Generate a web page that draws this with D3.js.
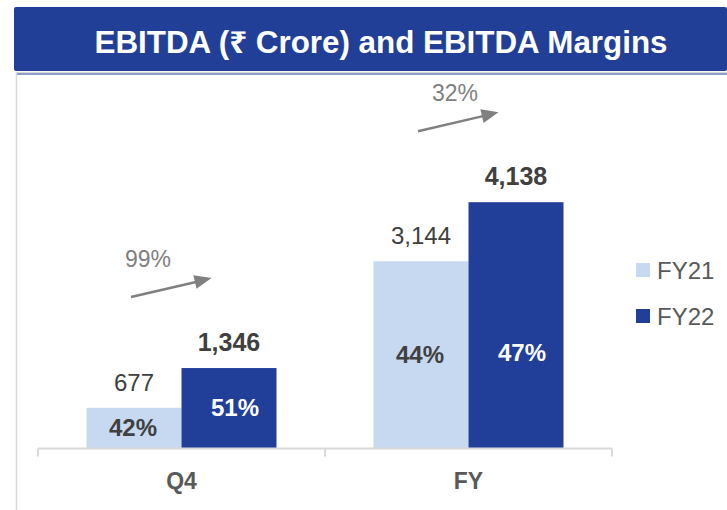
<!DOCTYPE html>
<html>
<head>
<meta charset="utf-8">
<script src="https://cdn.jsdelivr.net/npm/d3@7"></script>
<style>
    body { margin: 0; background: #fff; }
    svg text { font-family: "Liberation Sans", Arial, "Noto Sans", sans-serif; }
</style>
</head>
<body>
<svg id="chart" width="727" height="510"></svg>
<script>
const title = 'EBITDA (₹ Crore) and EBITDA Margins'
const categories = ['Q4', 'FY']
const series = ['FY21', 'FY22']
const ebitda = { FY21: [677, 3144], FY22: [1346, 4138] }
const margins = { FY21: ['42%', '44%'], FY22: ['51%', '47%'] }
const growth = ['99%', '32%']

const COLORS = { FY21: '#c6d9f0', FY22: '#213e99' }
const HEADER_BLUE = '#223f98'
const TEXT_DARK = '#404040'
const TEXT_GREY = '#595959'
const ARROW_GREY = '#808080'

const svg = d3.select('#chart')

// header band
svg.append('rect')
    .attr('x', 14).attr('y', 7)
    .attr('width', 727 - 14).attr('height', 64)
    .attr('rx', 2)
    .attr('fill', HEADER_BLUE)
svg.append('line')
    .attr('x1', 16).attr('x2', 727).attr('y1', 72.5).attr('y2', 72.5)
    .attr('stroke', '#d9d9d9').attr('stroke-width', 1.5)
svg.append('line')
    .attr('x1', 16).attr('x2', 727).attr('y1', 74).attr('y2', 74)
    .attr('stroke', HEADER_BLUE).attr('stroke-width', 1)
svg.append('line')
    .attr('x1', 16.5).attr('x2', 16.5).attr('y1', 72).attr('y2', 510)
    .attr('stroke', '#d9d9d9').attr('stroke-width', 1.5)

svg.append('text')
    .attr('x', 381).attr('y', 53)
    .attr('text-anchor', 'middle')
    .attr('fill', '#fff')
    .attr('font-size', 31)
    .attr('font-weight', 'bold')
    .attr('textLength', 573)
    .attr('lengthAdjust', 'spacingAndGlyphs')
    .text(title)

// scales
const x0 = d3.scaleBand().domain(categories).range([38, 612])
const groupPad = x0.bandwidth() * 0.169
const x1 = d3.scaleBand().domain(series).range([groupPad, x0.bandwidth() - groupPad])
const y = d3.scaleLinear().domain([0, 5000]).range([448, 151])

const bars = categories.flatMap((cat, i) => series.map(s => ({
    cat, s, i, value: ebitda[s][i], margin: margins[s][i]
})))

const gBars = svg.append('g')
gBars.selectAll('rect')
    .data(bars)
    .join('rect')
    .attr('x', d => x0(d.cat) + x1(d.s))
    .attr('y', d => y(d.value))
    .attr('width', x1.bandwidth())
    .attr('height', d => y(0) - y(d.value))
    .attr('fill', d => COLORS[d.s])

// axis
const xAxis = svg.append('g')
    .attr('transform', `translate(0,${y(0) + 0.5})`)
xAxis.append('line')
    .attr('x1', 38).attr('x2', 612)
    .attr('stroke', '#d9d9d9').attr('stroke-width', 2)
xAxis.selectAll('line.tick')
    .data([38, ...categories.map(c => x0(c) + x0.bandwidth())])
    .join('line')
    .attr('class', 'tick')
    .attr('x1', d => d).attr('x2', d => d)
    .attr('y1', 0).attr('y2', 8)
    .attr('stroke', '#d9d9d9').attr('stroke-width', 2)
xAxis.selectAll('text')
    .data(categories)
    .join('text')
    .attr('x', d => x0(d) + x0.bandwidth() / 2)
    .attr('y', 40)
    .attr('text-anchor', 'middle')
    .attr('fill', TEXT_GREY)
    .attr('font-size', 23)
    .attr('font-weight', 'bold')
    .text(d => d)

// value labels
gBars.selectAll('text.value')
    .data(bars)
    .join('text')
    .attr('class', 'value')
    .attr('x', d => x0(d.cat) + x1(d.s) + x1.bandwidth() / 2)
    .attr('y', d => y(d.value) - 17)
    .attr('text-anchor', 'middle')
    .attr('fill', TEXT_DARK)
    .attr('font-size', d => d.s === 'FY22' ? 25 : 24)
    .attr('font-weight', d => d.s === 'FY22' ? 'bold' : 'normal')
    .text(d => d3.format(',')(d.value))

// margin labels inside bars
gBars.selectAll('text.margin')
    .data(bars)
    .join('text')
    .attr('class', 'margin')
    .attr('x', d => x0(d.cat) + x1(d.s) + x1.bandwidth() / 2 + (d.s === 'FY22' ? 6 : -1))
    .attr('y', d => {
        const mid = (y(d.value) + y(0)) / 2
        return Math.max(mid, y(1600)) + 8
    })
    .attr('text-anchor', 'middle')
    .attr('fill', d => d.s === 'FY22' ? '#fff' : TEXT_DARK)
    .attr('font-size', 24)
    .attr('font-weight', 'bold')
    .text(d => d.margin)

// growth arrows (head drawn as its own triangle)
const gGrowth = svg.append('g')
    .selectAll('g')
    .data(categories)
    .join('g')
gGrowth.each(function (cat, i) {
    const g = d3.select(this)
    const xStart = x0(cat) + x1('FY21') + x1.bandwidth() / 2 - 3
    const xEnd = x0(cat) + x1('FY22') + 30
    const yTip = y(ebitda.FY22[i]) - 90
    const yStart = yTip + 19
    const ang = Math.atan2(yTip - yStart, xEnd - xStart)
    const headLen = 17, headHalf = 7
    const bx = xEnd - headLen * Math.cos(ang), by = yTip - headLen * Math.sin(ang)
    const nx = -Math.sin(ang) * headHalf, ny = Math.cos(ang) * headHalf
    g.append('line')
        .attr('x1', xStart).attr('y1', yStart)
        .attr('x2', bx + 1).attr('y2', by)
        .attr('stroke', ARROW_GREY).attr('stroke-width', 2.5)
    g.append('path')
        .attr('d', `M${xEnd},${yTip} L${bx + nx},${by + ny} L${bx - nx},${by - ny} Z`)
        .attr('fill', ARROW_GREY)
    g.append('text')
        .attr('x', xStart + 17 + (i === 1 ? 20 : 0))
        .attr('y', yTip - 11)
        .attr('text-anchor', 'middle')
        .attr('fill', ARROW_GREY)
        .attr('font-size', 23)
        .text(growth[i])
})

// legend
const legend = svg.append('g')
    .selectAll('g')
    .data(series)
    .join('g')
    .attr('transform', (d, i) => `translate(636,${263 + i * 46})`)
legend.append('rect')
    .attr('width', 14).attr('height', 14)
    .attr('fill', d => COLORS[d])
legend.append('text')
    .attr('x', 21).attr('y', 16)
    .attr('fill', TEXT_GREY)
    .attr('font-size', 24)
    .text(d => d)
</script>
</body>
</html>
